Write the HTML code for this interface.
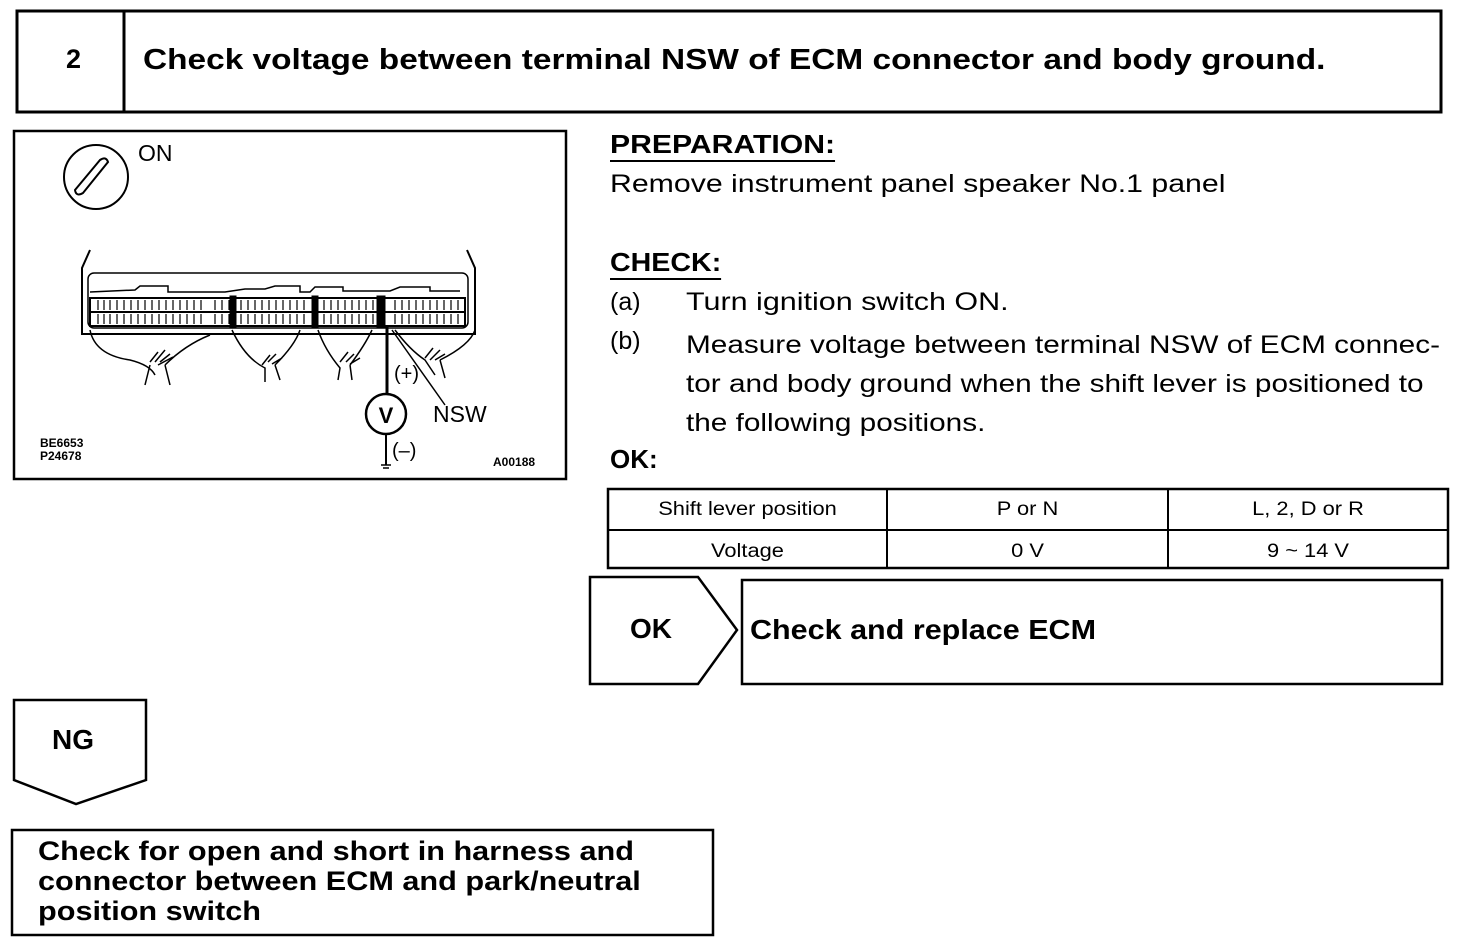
<!DOCTYPE html>
<html><head><style>
body{margin:0;width:1472px;height:944px;background:#fff;position:relative;font-family:"Liberation Sans",Arial,sans-serif;color:#000;overflow:hidden}
.a{position:absolute;white-space:nowrap;transform-origin:0 0}
.b{font-weight:bold}
.c{transform-origin:50% 0;transform:scaleX(1.15)}
</style></head><body>
<svg class="a" style="left:0;top:0" width="1472" height="944">
<g fill="none" stroke="#000">
<rect x="17" y="11" width="1424" height="101" stroke-width="3"/>
<line x1="124" y1="11" x2="124" y2="112" stroke-width="3"/>
<rect x="14" y="131" width="552" height="348" stroke-width="2.5"/>
<circle cx="96" cy="177" r="32" stroke-width="2"/>
<path d="M75 190 L100 160 Q106 156 108 162 L83 193 Q76 197 75 190Z" stroke-width="2"/>
<path d="M90 250 L82 268 L82 334 L475 334 L475 268 L467 250" stroke-width="2"/>
<rect x="88" y="273" width="380" height="55" rx="6" stroke-width="1.5"/>
<path d="M90 292 L135 290 L140 286 L168 286 L168 292 L225 292 L245 289 L265 289 L275 286 L300 286 L300 292 L310 292 L315 287 L343 287 L343 291 L390 291 L400 287 L430 287 L430 291 L460 291" stroke-width="1.5"/>
<rect x="90" y="298" width="375" height="28" stroke-width="2"/>
<line x1="90" y1="312" x2="465" y2="312" stroke-width="2"/>
<g stroke-width="1.2">
<path d="M98 300v10M104 300v10M110 300v10M117 300v10M124 300v10M131 300v10M138 300v10M145 300v10M152 300v10M159 300v10M166 300v10M173 300v10M180 300v10M187 300v10M194 300v10M201 300v10M215 300v10M222 300v10M229 300v10M241 300v10M248 300v10M255 300v10M262 300v10M269 300v10M276 300v10M283 300v10M290 300v10M297 300v10M304 300v10M324 300v10M331 300v10M338 300v10M345 300v10M352 300v10M359 300v10M366 300v10M373 300v10M395 300v10M402 300v10M409 300v10M416 300v10M423 300v10M430 300v10M437 300v10M444 300v10M451 300v10M458 300v10"/>
<path d="M98 314v10M104 314v10M110 314v10M117 314v10M124 314v10M131 314v10M138 314v10M145 314v10M152 314v10M159 314v10M166 314v10M173 314v10M180 314v10M187 314v10M194 314v10M201 314v10M215 314v10M222 314v10M229 314v10M241 314v10M248 314v10M255 314v10M262 314v10M269 314v10M276 314v10M283 314v10M290 314v10M297 314v10M304 314v10M324 314v10M331 314v10M338 314v10M345 314v10M352 314v10M359 314v10M366 314v10M373 314v10M395 314v10M402 314v10M409 314v10M416 314v10M423 314v10M430 314v10M437 314v10M444 314v10M451 314v10M458 314v10"/>
</g>
<rect x="230" y="296" width="6" height="32" fill="#000"/>
<rect x="312" y="296" width="6" height="32" fill="#000"/>
<rect x="377" y="296" width="8" height="32" fill="#000"/>
<g stroke-width="1.5">
<path d="M90 330 Q95 355 130 360 Q150 365 155 375 M150 365 L145 385 M165 365 L170 385 M165 365 Q185 345 210 335"/>
<path d="M150 362 l8 -10 M155 362 l10 -12 M160 362 l10 -8 M158 365 l15 -8"/>
<path d="M232 330 Q245 358 265 368 L265 382 M275 365 L280 380 M275 365 Q295 345 300 330 M262 365 l8 -10 M268 362 l8 -8 M272 364 l10 -6"/>
<path d="M318 330 Q325 350 340 368 L338 380 M350 365 L352 380 M350 365 Q365 345 372 330 M340 362 l8 -10 M346 362 l8 -8 M350 364 l10 -6"/>
<path d="M395 330 Q410 350 425 360 L435 375 M440 360 L445 378 M440 360 Q470 345 475 330 M425 358 l8 -10 M430 360 l10 -10 M435 360 l10 -6"/>
<path d="M392 330 L445 405"/>
</g>
<line x1="387" y1="325" x2="387" y2="394" stroke-width="3"/>
<circle cx="386" cy="414" r="20" stroke-width="2.5"/>
<line x1="386" y1="434" x2="386" y2="465" stroke-width="2"/>
<path d="M381 465h10M383 468h6" stroke-width="1.5"/>
<rect x="608" y="489" width="840" height="79" stroke-width="2.5"/>
<line x1="608" y1="530" x2="1448" y2="530" stroke-width="2"/>
<line x1="887" y1="489" x2="887" y2="568" stroke-width="2"/>
<line x1="1168" y1="489" x2="1168" y2="568" stroke-width="2"/>
<path d="M590 577 L698 577 L737 630 L698 684 L590 684 Z" stroke-width="2.5"/>
<rect x="742" y="580" width="700" height="104" stroke-width="2.5"/>
<path d="M14 700 L146 700 L146 780 L76 804 L14 780 Z" stroke-width="2.5"/>
<rect x="12" y="830" width="701" height="105" stroke-width="2.5"/>
</g>
<text x="386" y="423" font-size="22" font-weight="bold" text-anchor="middle" font-family="Liberation Sans">V</text>
</svg>
<div class="a b" style="left:66px;top:44px;font-size:27px">2</div>
<div class="a b" style="left:143px;top:44px;font-size:29px;transform:scaleX(1.152)">Check voltage between terminal NSW of ECM connector and body ground.</div>
<div class="a" style="left:138px;top:140px;font-size:23px">ON</div>
<div class="a" style="left:394px;top:363px;font-size:20px">(+)</div>
<div class="a" style="left:433px;top:401px;font-size:23px">NSW</div>
<div class="a" style="left:392px;top:440px;font-size:20px">(–)</div>
<div class="a b" style="left:40px;top:437px;font-size:12px;line-height:13px">BE6653<br>P24678</div>
<div class="a b" style="left:493px;top:455px;font-size:12px">A00188</div>
<div class="a b" style="left:610px;top:128px;font-size:26px;border-bottom:2px solid #000;line-height:32px;transform:scaleX(1.16)">PREPARATION:</div>
<div class="a" style="left:610px;top:170px;font-size:25px;transform:scaleX(1.21)">Remove instrument panel speaker No.1 panel</div>
<div class="a b" style="left:610px;top:246px;font-size:26px;border-bottom:2px solid #000;line-height:32px;transform:scaleX(1.1)">CHECK:</div>
<div class="a" style="left:610px;top:288px;font-size:25px">(a)</div>
<div class="a" style="left:686px;top:288px;font-size:25px;transform:scaleX(1.22)">Turn ignition switch ON.</div>
<div class="a" style="left:610px;top:327px;font-size:25px">(b)</div>
<div class="a" style="left:686px;top:326px;font-size:25px;line-height:39px;transform:scaleX(1.19)">Measure voltage between terminal NSW of ECM connec-<br>tor and body ground when the shift lever is positioned to<br>the following positions.</div>
<div class="a b" style="left:610px;top:444px;font-size:26px">OK:</div>
<div class="a c" style="left:608px;top:499px;width:279px;text-align:center;font-size:19px">Shift lever position</div>
<div class="a c" style="left:887px;top:499px;width:281px;text-align:center;font-size:19px">P or N</div>
<div class="a c" style="left:1168px;top:499px;width:280px;text-align:center;font-size:19px">L, 2, D or R</div>
<div class="a c" style="left:608px;top:541px;width:279px;text-align:center;font-size:19px">Voltage</div>
<div class="a c" style="left:887px;top:541px;width:281px;text-align:center;font-size:19px">0 V</div>
<div class="a c" style="left:1168px;top:541px;width:280px;text-align:center;font-size:19px">9 ~ 14 V</div>
<div class="a b" style="left:630px;top:613px;font-size:28px">OK</div>
<div class="a b" style="left:750px;top:614px;font-size:28px;transform:scaleX(1.09)">Check and replace ECM</div>
<div class="a b" style="left:52px;top:724px;font-size:28px">NG</div>
<div class="a b" style="left:38px;top:836px;font-size:27px;line-height:30px;transform:scaleX(1.135)">Check for open and short in harness and<br>connector between ECM and park/neutral<br>position switch</div>
</body></html>
